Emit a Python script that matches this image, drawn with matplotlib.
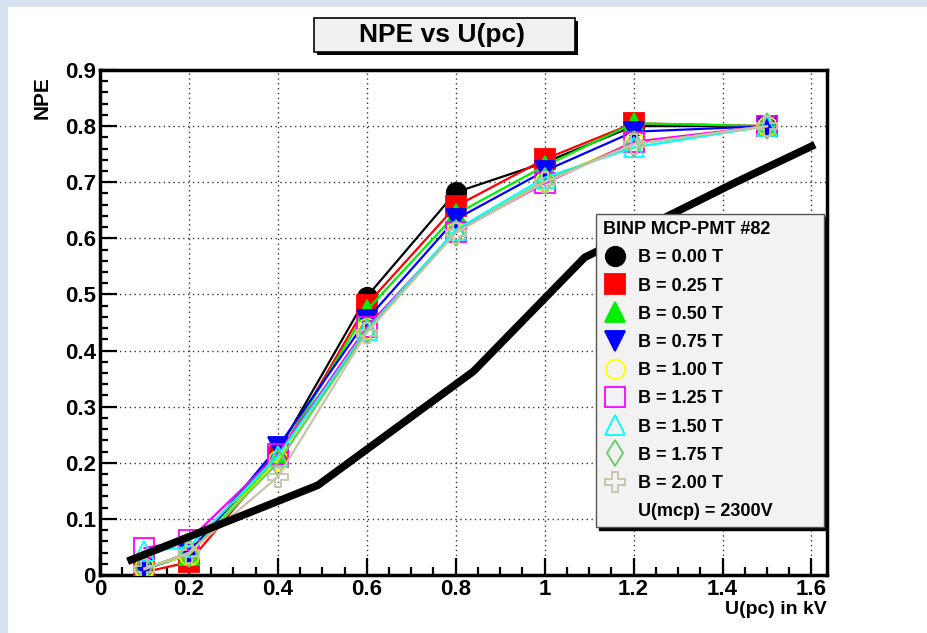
import matplotlib
matplotlib.use("Agg")
import matplotlib.pyplot as plt
from matplotlib.patches import Rectangle
from matplotlib.lines import Line2D
from matplotlib.ticker import MultipleLocator
from matplotlib import font_manager

plt.rcParams['font.family'] = ['Liberation Sans', 'DejaVu Sans']
plt.rcParams['font.weight'] = 'bold'

U_pc = [0.1, 0.2, 0.4, 0.6, 0.8, 1.0, 1.2, 1.5]
labels = ["B = 0.00 T", "B = 0.25 T", "B = 0.50 T", "B = 0.75 T", "B = 1.00 T",
          "B = 1.25 T", "B = 1.50 T", "B = 1.75 T", "B = 2.00 T"]
npe_b000 = [0.010, 0.040, 0.220, 0.496, 0.682, 0.735, 0.800, 0.800]
npe_b025 = [0.005, 0.023, 0.210, 0.482, 0.657, 0.741, 0.805, 0.800]
npe_b050 = [0.010, 0.036, 0.210, 0.472, 0.643, 0.729, 0.805, 0.800]
npe_b075 = [0.010, 0.038, 0.228, 0.455, 0.634, 0.720, 0.790, 0.800]
npe_b100 = [0.012, 0.036, 0.205, 0.440, 0.612, 0.702, 0.772, 0.800]
npe_b125 = [0.048, 0.062, 0.215, 0.442, 0.612, 0.698, 0.772, 0.800]
npe_b150 = [0.042, 0.050, 0.212, 0.437, 0.615, 0.708, 0.762, 0.800]
npe_b175 = [0.012, 0.038, 0.200, 0.435, 0.610, 0.702, 0.768, 0.800]
npe_b200 = [0.010, 0.040, 0.175, 0.432, 0.610, 0.700, 0.768, 0.800]
series = [npe_b000, npe_b025, npe_b050, npe_b075, npe_b100,
          npe_b125, npe_b150, npe_b175, npe_b200]

ref_x = [0.07, 0.49, 0.84, 1.09, 1.43, 1.60]
ref_y = [0.027, 0.160, 0.363, 0.566, 0.700, 0.764]

colors = ['black', 'red', '#00ee00', 'blue', '#ffff00', '#ff00ff', '#00ffff', '#66cc66', '#c8c2a8']
markers = ['o', 's', '^', 'v', 'o', 's', '^', 'd', 'P']
filled = [True, True, True, True, False, False, False, False, False]
msizes = [14, 14, 14, 14, 14, 14, 14, 13, 14]

available = {f.name for f in font_manager.fontManager.ttflist}
title_family = 'Liberation Sans Narrow' if 'Liberation Sans Narrow' in available else 'Liberation Sans'
title_size = 24 if title_family == 'Liberation Sans Narrow' else 19

W, H = 927, 633
fig = plt.figure(figsize=(W/100, H/100), dpi=100)
fig.patch.set_facecolor('#d6e2f0')
fig.patches.append(Rectangle((8/W, 0), 1, (H-7)/H, transform=fig.transFigure,
                             facecolor='white', edgecolor='none', zorder=-10))

ax = fig.add_axes([100/W, (H-575)/H, 727/W, 505/H])
ax.set_zorder(5)
ax.patch.set_alpha(0)
ax.set_xlim(0, 1.635)
ax.set_ylim(0, 0.9)

handles = []
for yv, lab, c, m, f, ms in zip(series, labels, colors, markers, filled, msizes):
    ax.plot(U_pc, yv, color=c, lw=1.6, marker=m, markersize=ms,
            markerfacecolor=(c if f else 'none'), markeredgecolor=c,
            markeredgewidth=1.3, label=lab, zorder=3)
    handles.append(Line2D([], [], ls='none', marker=m, markersize=ms,
                          markerfacecolor=(c if f else 'none'), markeredgecolor=c,
                          markeredgewidth=1.3))

ax.plot(ref_x, ref_y, color='black', lw=5.5, solid_joinstyle='miter', zorder=4)

ax.xaxis.set_minor_locator(MultipleLocator(0.05))
ax.yaxis.set_minor_locator(MultipleLocator(0.02))
ax.tick_params(which='both', direction='in', top=False, right=False, width=1.6)
ax.tick_params(which='major', length=12, labelsize=16, pad=3)
ax.tick_params(which='minor', length=6)
ax.set_xticks([0, 0.2, 0.4, 0.6, 0.8, 1.0, 1.2, 1.4, 1.6])
ax.set_xticklabels(['0', '0.2', '0.4', '0.6', '0.8', '1', '1.2', '1.4', '1.6'], fontweight='bold')
ax.set_yticks([0, 0.1, 0.2, 0.3, 0.4, 0.5, 0.6, 0.7, 0.8, 0.9])
ax.set_yticklabels(['0', '0.1', '0.2', '0.3', '0.4', '0.5', '0.6', '0.7', '0.8', '0.9'], fontweight='bold')
ax.grid(True, which='major', ls=(0, (1, 2.5)), color='#333333', lw=1.0)
for s in ax.spines.values():
    s.set_linewidth(2.5)

fig.text(42/W, (H-76)/H, 'NPE', rotation=90, ha='center', va='top',
         fontsize=15, fontweight='bold')
fig.text(827/W, (H-610)/H, 'U(pc) in kV', ha='right', va='center',
         fontsize=14, fontweight='bold')

# title box with shadow
fig.patches.append(Rectangle((317/W, (H-55)/H), 261/W, 34/H, transform=fig.transFigure,
                             facecolor='black', edgecolor='none', zorder=1))
fig.patches.append(Rectangle((314/W, (H-52)/H), 261/W, 34/H, transform=fig.transFigure,
                             facecolor='#f0f0f0', edgecolor='black', lw=1.2, zorder=2))
fig.text(442/W, (H-35)/H, 'NPE vs U(pc)', ha='center', va='center',
         fontsize=title_size, fontweight='bold', family=[title_family, 'DejaVu Sans'], zorder=3)

handles.append(Line2D([], [], ls='none', marker=None))
leg_labels = labels + ['U(mcp) = 2300V']
x0 = (596-100)/727
y1 = (575-214)/505
leg = ax.legend(handles, leg_labels, title='BINP MCP-PMT #82', loc='upper left',
                bbox_to_anchor=(x0, y1 - 0.2, (824-596)/727, 0.2), mode='expand', ncol=1,
                prop=dict(size=13, weight='bold'), title_fontproperties=dict(size=13, weight='bold'),
                frameon=True, fancybox=False, shadow=dict(color='black', alpha=1.0),
                labelspacing=0.62, handlelength=1.35, handletextpad=0.55,
                borderpad=0.4, borderaxespad=0)
leg._legend_box.align = 'left'
fr = leg.get_frame()
fr.set_facecolor('#f2f2f2')
fr.set_edgecolor('#555555')
fr.set_linewidth(1.0)
leg.set_zorder(10)

fig.savefig('out.png', dpi=100)
